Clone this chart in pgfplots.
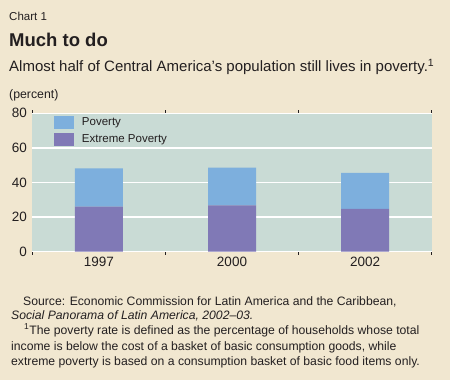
\documentclass[border=0pt]{standalone}
\usepackage{pgfplots}
\pgfplotsset{compat=1.18}
\usepackage{fontspec}
\setmainfont{Liberation Sans}
\definecolor{pagebg}{HTML}{F1E7D0}
\definecolor{plotbg}{HTML}{C9DBD5}
\definecolor{pov}{HTML}{7DAFDD}
\definecolor{ext}{HTML}{8079B6}
\definecolor{txt}{HTML}{231F20}
\begin{document}
\begin{tikzpicture}[x=1bp,y=1bp]
\fill[pagebg] (0,0) rectangle (450,380);
\node[anchor=base west,inner sep=0,text=txt,font=\fontsize{11.5bp}{13bp}\selectfont] at (9,360) {Chart 1};
\node[anchor=base west,inner sep=0,text=txt,font=\fontsize{18.5bp}{20bp}\selectfont\bfseries] at (9,333.3) {Much to do};
\node[anchor=base west,inner sep=0,text=txt,font=\fontsize{15bp}{17bp}\selectfont] at (9,308.3) {Almost half of Central America’s population still lives in poverty.\textsuperscript{1}};
\node[anchor=base west,inner sep=0,text=txt,font=\fontsize{12.3bp}{14bp}\selectfont] at (9,282) {(percent)};
\begin{axis}[
  at={(32.3bp,128.3bp)}, anchor=south west,
  scale only axis, width=399.4bp, height=138.4bp,
  ybar stacked, bar width=48bp,
  xmin=-0.5, xmax=2.5, ymin=0, ymax=80,
  xtick={0,1,2}, xticklabels={1997,2000,2002},
  extra x ticks={-0.5,0.5,1.5,2.5}, extra x tick labels={},
  extra x tick style={major tick length=3bp, tick style={txt, line width=0.8pt}, tick align=outside},
  ytick={0,20,40,60,80},
  major tick length=0pt,
  axis line style={draw=none},
  axis background/.style={fill=plotbg},
  ymajorgrids, grid style={white, line width=1.4pt},
  /pgf/number format/assume math mode=true,
  tick label style={text=txt,font=\fontsize{13.5bp}{15bp}\selectfont},
  yticklabel style={xshift=-2bp},
  xticklabel style={yshift=-2bp},
  legend style={at={(rel axis cs:0,1)}, anchor=north west, xshift=21bp, yshift=-2.5bp, draw=none, fill=none, inner sep=0pt, font=\fontsize{11.5bp}{14bp}\selectfont, text=txt, row sep=3.2bp},
  legend cell align=left,
  reverse legend,
  legend image code/.code={\fill[#1] (0bp,-6.3bp) rectangle (20bp,6.3bp); \path (26.5bp,0bp);},
]
\addplot[fill=ext, draw=none] coordinates {(0,26.0) (1,26.8) (2,24.7)};
\addlegendentry{Extreme Poverty}
\addplot[fill=pov, draw=none] coordinates {(0,22.2) (1,21.8) (2,20.8)};
\addlegendentry{Poverty}
\end{axis}
\begin{scope}[every node/.style={anchor=base west,inner sep=0,text=txt,font=\fontsize{12.2bp}{14bp}\selectfont}]
\node at (23,75) {Source: Economic Commission for Latin America and the Caribbean,};
\node at (11,60.7) {\itshape Social Panorama of Latin America, 2002–03.};
\node at (24,46) {\textsuperscript{1}The poverty rate is defined as the percentage of households whose total};
\node at (11,29.5) {income is below the cost of a basket of basic consumption goods, while};
\node at (11,14.5) {extreme poverty is based on a consumption basket of basic food items only.};
\end{scope}
\end{tikzpicture}
\end{document}
